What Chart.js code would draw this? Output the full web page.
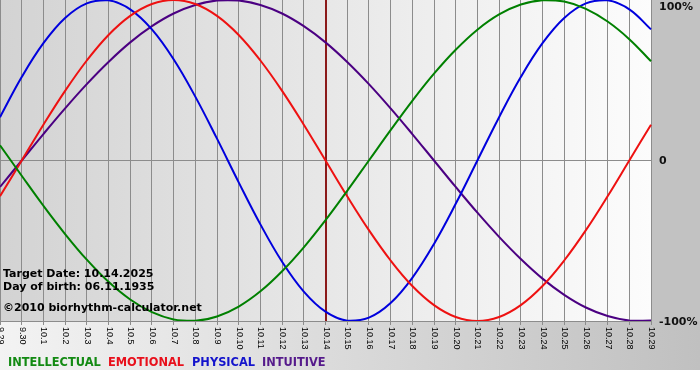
<!DOCTYPE html>
<html><head><meta charset="utf-8">
<style>html,body{margin:0;padding:0;background:#fff}canvas{display:block}</style>
<script src="https://cdn.jsdelivr.net/npm/chart.js@4.4.1/dist/chart.umd.min.js"></script>
</head><body>
<canvas id="c" width="700" height="380"></canvas>
<script>
const days = ['9.29','9.30','10.1','10.2','10.3','10.4','10.5','10.6','10.7','10.8','10.9','10.10','10.11','10.12','10.13','10.14','10.15','10.16','10.17','10.18','10.19','10.20','10.21','10.22','10.23','10.24','10.25','10.26','10.27','10.28','10.29'];
const intellectual = [9.5,-9.5,-28.2,-45.8,-61.8,-75.6,-86.6,-94.5,-99.0,-99.9,-97.2,-91.0,-81.5,-69.0,-54.1,-37.2,-18.9,0,18.9,37.2,54.1,69.0,81.5,91.0,97.2,99.9,99.0,94.5,86.6,75.6,61.8];
const emotional = [-22.3,0,22.3,43.4,62.3,78.2,90.1,97.5,100,97.5,90.1,78.2,62.3,43.4,22.3,0,-22.3,-43.4,-62.3,-78.2,-90.1,-97.5,-100,-97.5,-90.1,-78.2,-62.3,-43.4,-22.3,0,22.3];
const physical = [27.0,52.0,73.1,88.8,97.9,99.8,94.2,81.7,63.1,39.8,13.6,-13.6,-39.8,-63.1,-81.7,-94.2,-99.8,-97.9,-88.8,-73.1,-52.0,-27.0,0,27.0,52.0,73.1,88.8,97.9,99.8,94.2,81.7];
const intuitive = [-16.5,0,16.5,32.5,47.6,61.4,73.6,83.7,91.6,96.9,99.7,99.7,96.9,91.6,83.7,73.6,61.4,47.6,32.5,16.5,0,-16.5,-32.5,-47.6,-61.4,-73.6,-83.7,-91.6,-96.9,-99.7,-99.7];
const yTickValues = [100, 0, -100];
const yTickLabels = ['100%', '0', '-100%'];
const targetDay = '10.14';
const infoLines = ['Target Date: 10.14.2025', 'Day of birth: 06.11.1935', '\u00A92010 biorhythm-calculator.net'];
const legendNames = ['INTELLECTUAL', 'EMOTIONAL', 'PHYSICAL', 'INTUITIVE'];

const lineColors = ['#008000', '#ee1111', '#0000dd', '#4b0082'];
const legendColors = ['#138a13', '#e8101c', '#1414cc', '#551a8b'];
const legendX = [8, 108, 192, 262];

const deco = {
  id: 'deco',
  beforeDraw(chart) {
    const {ctx, chartArea: a, width, height} = chart;
    ctx.save();
    ctx.fillStyle = '#ffffff';
    ctx.fillRect(0, 0, width, height);
    let g = ctx.createLinearGradient(0, 0, width, 0);
    g.addColorStop(0, '#f3f3f3');
    g.addColorStop(1, '#c0c0c0');
    ctx.fillStyle = g;
    ctx.fillRect(0, a.bottom, width, 370 - a.bottom);
    ctx.fillStyle = '#c2c2c2';
    ctx.fillRect(a.right, 0, width - a.right, a.bottom);
    g = ctx.createLinearGradient(a.left, 0, a.right, 0);
    g.addColorStop(0, '#d3d3d3');
    g.addColorStop(1, '#fcfcfc');
    ctx.fillStyle = g;
    ctx.fillRect(a.left, a.top, a.right - a.left, a.bottom - a.top);
    ctx.restore();
  },
  beforeDatasetsDraw(chart) {
    const {ctx, chartArea: a, scales} = chart;
    const x = Math.round(scales.x.getPixelForValue(days.indexOf(targetDay)));
    ctx.save();
    ctx.strokeStyle = '#8b1a1a';
    ctx.lineWidth = 2;
    ctx.beginPath();
    ctx.moveTo(x, a.top);
    ctx.lineTo(x, a.bottom);
    ctx.stroke();
    ctx.restore();
  },
  afterDraw(chart) {
    const {ctx, chartArea: a, scales} = chart;
    ctx.save();
    ctx.fillStyle = '#000';
    ctx.font = "9px 'Liberation Sans', Arial, sans-serif";
    ctx.textAlign = 'left';
    ctx.textBaseline = 'middle';
    days.forEach((d, i) => {
      const x = scales.x.getPixelForTick(i);
      ctx.save();
      ctx.translate(x + 0.5, a.bottom + 6);
      ctx.rotate(Math.PI / 2);
      ctx.fillText(d, 0, 0);
      ctx.restore();
    });
    ctx.font = "bold 11px 'DejaVu Sans', sans-serif";
    ctx.fillStyle = '#111';
    yTickValues.forEach((v, i) => {
      let y = scales.y.getPixelForValue(v) + 1;
      y = Math.max(7, y);
      ctx.fillText(yTickLabels[i], a.right + 8, y);
    });
    ctx.textBaseline = 'alphabetic';
    ctx.fillStyle = '#000';
    ctx.fillText(infoLines[0], 3, 277);
    ctx.fillText(infoLines[1], 3, 290);
    ctx.fillText(infoLines[2], 3, 311);
    ctx.font = "bold 11.4px 'DejaVu Sans', sans-serif";
    legendNames.forEach((n, i) => {
      ctx.fillStyle = legendColors[i];
      ctx.fillText(n, legendX[i], 366);
    });
    ctx.restore();
  }
};

const seriesList = [intellectual, emotional, physical, intuitive];
new Chart(document.getElementById('c'), {
  type: 'line',
  data: {
    labels: days,
    datasets: seriesList.map((s, i) => ({
      label: legendNames[i],
      data: s,
      borderColor: lineColors[i],
      borderWidth: 2,
      pointRadius: 0,
      tension: 0.4,
      fill: false
    }))
  },
  options: {
    responsive: false,
    animation: false,
    layout: {padding: 0},
    plugins: {legend: {display: false}, tooltip: {enabled: false}},
    scales: {
      x: {
        type: 'category',
        offset: false,
        grid: {color: '#8c8c8c', lineWidth: 1, drawTicks: true, tickLength: 4, offset: false},
        border: {display: true, color: '#8c8c8c'},
        ticks: {display: false, autoSkip: false},
        afterFit(s) { s.height = 59; }
      },
      y: {
        position: 'right',
        min: -100, max: 100,
        ticks: {display: false, stepSize: 100},
        grid: {color: c => (c.tick && c.tick.value === 0) ? '#8c8c8c' : 'rgba(0,0,0,0)', drawTicks: false},
        border: {display: false},
        afterFit(s) { s.width = 49; }
      }
    }
  },
  plugins: [deco]
});
</script>
</body></html>
